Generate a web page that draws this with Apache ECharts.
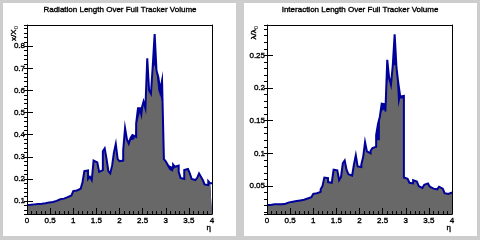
<!DOCTYPE html>
<html>
<head>
<meta charset="utf-8">
<script src="https://cdn.jsdelivr.net/npm/echarts@6/dist/echarts.min.js"></script>
<style>
  html, body { margin: 0; padding: 0; background: #cdcdcd; }
  #chart { width: 480px; height: 240px; }
</style>
</head>
<body>
<div id="chart"></div>
<script>
// eta range of all histograms (100 bins)
const etaMin = 0
const etaMax = 4

// x/X0 per eta bin (outer, blue outline)
const radLength = [
  0.082, 0.083, 0.084, 0.085, 0.087, 0.087, 0.088, 0.088, 0.089, 0.09,
  0.091, 0.094, 0.095, 0.096, 0.099, 0.101, 0.102, 0.108, 0.11, 0.111,
  0.115, 0.118, 0.12, 0.125, 0.13, 0.145, 0.148, 0.153, 0.156, 0.165,
  0.185, 0.235, 0.238, 0.2, 0.21, 0.195, 0.283, 0.275, 0.27, 0.232,
  0.24, 0.325, 0.338, 0.29, 0.235, 0.225, 0.26, 0.32, 0.358, 0.29,
  0.28, 0.283, 0.33, 0.43, 0.38, 0.36, 0.385, 0.398, 0.39, 0.45,
  0.52, 0.52, 0.52, 0.55, 0.52, 0.745, 0.6, 0.585, 0.715, 0.855,
  0.69, 0.66, 0.6, 0.645, 0.29, 0.28, 0.265, 0.255, 0.25, 0.265,
  0.255, 0.26, 0.232, 0.205, 0.2, 0.24, 0.245, 0.24, 0.225, 0.2,
  0.195, 0.2, 0.205, 0.225, 0.21, 0.195, 0.175, 0.172, 0.19, 0.18
]

// x/X0 per eta bin (inner, grey fill)
const radLengthInner = [
  0.082, 0.083, 0.084, 0.085, 0.087, 0.087, 0.088, 0.088, 0.089, 0.09,
  0.091, 0.094, 0.095, 0.096, 0.099, 0.101, 0.102, 0.108, 0.11, 0.111,
  0.115, 0.118, 0.12, 0.125, 0.13, 0.145, 0.148, 0.153, 0.156, 0.165,
  0.185, 0.235, 0.238, 0.2, 0.21, 0.195, 0.283, 0.275, 0.27, 0.232,
  0.24, 0.325, 0.338, 0.29, 0.235, 0.225, 0.26, 0.32, 0.358, 0.29,
  0.28, 0.283, 0.33, 0.41, 0.38, 0.36, 0.375, 0.38, 0.38, 0.44,
  0.47, 0.5, 0.466, 0.54, 0.51, 0.7, 0.6, 0.585, 0.7, 0.715,
  0.685, 0.6, 0.58, 0.55, 0.29, 0.28, 0.255, 0.24, 0.232, 0.265,
  0.255, 0.26, 0.232, 0.205, 0.2, 0.24, 0.245, 0.24, 0.225, 0.2,
  0.195, 0.2, 0.205, 0.225, 0.21, 0.195, 0.175, 0.172, 0.19, 0.18
]

// lambda/lambda0 per eta bin (outer, blue outline)
const intLength = [
  0.021, 0.021, 0.022, 0.022, 0.022, 0.022, 0.022, 0.022, 0.023, 0.023,
  0.024, 0.025, 0.025, 0.026, 0.026, 0.027, 0.027, 0.028, 0.028, 0.029,
  0.03, 0.031, 0.031, 0.033, 0.034, 0.038, 0.039, 0.04, 0.041, 0.045,
  0.05, 0.063, 0.062, 0.056, 0.055, 0.054, 0.075, 0.074, 0.073, 0.059,
  0.064, 0.085, 0.089, 0.075, 0.068, 0.066, 0.068, 0.083, 0.097, 0.08,
  0.079, 0.083, 0.095, 0.117, 0.103, 0.1, 0.104, 0.108, 0.11, 0.128,
  0.145, 0.156, 0.176, 0.175, 0.164, 0.243, 0.216, 0.205, 0.235, 0.282,
  0.231, 0.207, 0.187, 0.188, 0.063, 0.061, 0.058, 0.055, 0.054, 0.059,
  0.057, 0.056, 0.05, 0.047, 0.046, 0.052, 0.054, 0.053, 0.049, 0.046,
  0.044, 0.045, 0.045, 0.049, 0.046, 0.043, 0.039, 0.038, 0.041, 0.04
]

// lambda/lambda0 per eta bin (inner, grey fill)
const intLengthInner = [
  0.021, 0.021, 0.022, 0.022, 0.022, 0.022, 0.022, 0.022, 0.023, 0.023,
  0.024, 0.025, 0.025, 0.026, 0.026, 0.027, 0.027, 0.028, 0.028, 0.029,
  0.03, 0.031, 0.031, 0.033, 0.034, 0.038, 0.039, 0.04, 0.041, 0.045,
  0.05, 0.063, 0.062, 0.056, 0.055, 0.054, 0.075, 0.074, 0.073, 0.059,
  0.064, 0.085, 0.089, 0.075, 0.068, 0.066, 0.068, 0.083, 0.097, 0.08,
  0.079, 0.083, 0.095, 0.112, 0.103, 0.1, 0.104, 0.108, 0.11, 0.12,
  0.12, 0.156, 0.165, 0.168, 0.162, 0.21, 0.216, 0.205, 0.235, 0.235,
  0.226, 0.17, 0.184, 0.184, 0.063, 0.061, 0.058, 0.055, 0.054, 0.059,
  0.057, 0.056, 0.05, 0.047, 0.046, 0.052, 0.054, 0.053, 0.049, 0.046,
  0.044, 0.045, 0.045, 0.049, 0.046, 0.043, 0.039, 0.038, 0.041, 0.04
]

const titles = ['Radiation Length Over Full Tracker Volume', 'Interaction Length Over Full Tracker Volume']
const yTitles = ['{a|x/X}{s|0}', '{a|λ/λ}{s|0}']

const FONT = 'Liberation Sans'
const BLUE = '#00009a'
const GREY = '#686868'
const chart = echarts.init(document.getElementById('chart'))

// histogram bins -> outline points (two per bin: left and right edge)
const toSteps = (values) => {
  const w = (etaMax - etaMin) / values.length
  const pts = []
  values.forEach((v, i) => {
    pts.push([etaMin + i * w, v])
    pts.push([etaMin + (i + 1) * w, v])
  })
  return pts
}

// thin stroke darkens the small text a bit, like the crisp ROOT fonts
const ink = { textBorderColor: '#000', textBorderWidth: 0.35 }
const label = { color: '#000', fontFamily: FONT, fontSize: 8, ...ink }

const xAxes = (gi) => [
  {
    gridIndex: gi, type: 'value', min: etaMin, max: etaMax, interval: 0.5, z: 5,
    axisLine: { lineStyle: { color: '#000', width: 1 } },
    axisTick: { inside: true, length: 6, lineStyle: { color: '#000' } },
    minorTick: { show: true, splitNumber: 5, length: 3, lineStyle: { color: '#000' } },
    axisLabel: { ...label, margin: 3 },
    splitLine: { show: false },
  },
  {
    gridIndex: gi, type: 'value', position: 'top', min: etaMin, max: etaMax, z: 5,
    axisLine: { lineStyle: { color: '#000', width: 1 } },
    axisTick: { show: false }, axisLabel: { show: false }, splitLine: { show: false },
  },
]

const yAxes = (gi, min, max, major, minor) => [
  {
    gridIndex: gi, type: 'value', min, max, splitNumber: major, z: 5,
    axisLine: { show: true, lineStyle: { color: '#000', width: 1 } },
    axisTick: { show: true, inside: true, length: 6, lineStyle: { color: '#000' } },
    axisLabel: { ...label, margin: 2, showMinLabel: false, showMaxLabel: false },
    splitLine: { show: false },
  },
  {
    gridIndex: gi, type: 'value', min, max, splitNumber: minor, z: 5,
    axisLine: { show: false },
    axisTick: { show: true, inside: true, length: 3, lineStyle: { color: '#000' } },
    axisLabel: { show: false }, splitLine: { show: false },
  },
  {
    gridIndex: gi, type: 'value', position: 'right', min, max, z: 5,
    axisLine: { show: true, lineStyle: { color: '#000', width: 1 } },
    axisTick: { show: false }, axisLabel: { show: false }, splitLine: { show: false },
  },
]

// blue filled outer histogram, grey inner fill on top, then the blue outline
const histSeries = (xi, yi, outer, inner) => [
  {
    type: 'line', xAxisIndex: xi, yAxisIndex: yi, symbol: 'none', z: 1, silent: true,
    lineStyle: { width: 0 },
    areaStyle: { color: BLUE, opacity: 1 },
    data: toSteps(outer),
  },
  {
    type: 'line', xAxisIndex: xi, yAxisIndex: yi, symbol: 'none', z: 2, silent: true,
    lineStyle: { width: 0 },
    areaStyle: { color: GREY, opacity: 1 },
    data: toSteps(inner),
  },
  {
    type: 'line', xAxisIndex: xi, yAxisIndex: yi, symbol: 'none', z: 3, silent: true,
    lineStyle: { color: BLUE, width: 2, join: 'miter' },
    data: toSteps(outer),
  },
]

const option = {
  backgroundColor: '#cdcdcd',
  animation: false,
  title: titles.map((t, i) => ({
    text: t,
    left: 120 + i * 240,
    top: 6,
    textAlign: 'center',
    padding: 0,
    textStyle: { color: '#000', fontFamily: FONT, fontSize: 8, fontWeight: 'normal', ...ink },
  })),
  grid: [
    { left: 27, top: 25, width: 185, height: 189 },
    { left: 267, top: 25, width: 185, height: 189 },
  ],
  xAxis: [...xAxes(0), ...xAxes(1)],
  yAxis: [
    ...yAxes(0, 0.0415, 0.896, 8, 43),
    ...yAxes(1, 0.0072, 0.2964, 6, 29),
  ],
  series: [
    ...histSeries(0, 0, radLength, radLengthInner),
    ...histSeries(2, 3, intLength, intLengthInner),
  ],
  graphic: [
    { type: 'rect', z: -10, shape: { x: 3, y: 3, width: 233, height: 233 }, style: { fill: '#fff' } },
    { type: 'rect', z: -10, shape: { x: 244, y: 3, width: 233, height: 233 }, style: { fill: '#fff' } },
    ...[0, 1].map((i) => ({
      type: 'text', x: 14 + i * 240, y: 26, rotation: Math.PI / 2,
      style: {
        text: yTitles[i], align: 'right', verticalAlign: 'middle', fill: '#000',
        rich: {
          a: { fontFamily: FONT, fontSize: 8, fill: '#000', stroke: '#000', lineWidth: 0.35 },
          s: { fontFamily: FONT, fontSize: 6, fill: '#000', padding: [4, 0, 0, 0] },
        },
      },
    })),
    ...[0, 1].map((i) => ({
      type: 'text', x: 211 + i * 240, y: 228,
      style: {
        text: 'η', align: 'right', verticalAlign: 'middle', fill: '#000',
        stroke: '#000', lineWidth: 0.35, fontFamily: FONT, fontSize: 8,
      },
    })),
  ],
}

chart.setOption(option)
</script>
</body>
</html>
